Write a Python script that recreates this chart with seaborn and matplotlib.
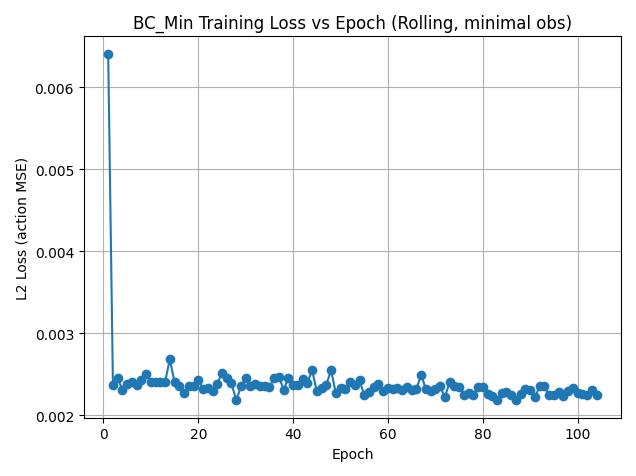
import numpy as np
import matplotlib
matplotlib.use("Agg")
import matplotlib.pyplot as plt
import seaborn as sns

loss = [0.00641, 0.00237, 0.00245, 0.00231, 0.00238, 0.00240, 0.00237, 0.00243, 0.00250, 0.00241,
        0.00240, 0.00240, 0.00241, 0.00268, 0.00240, 0.00235, 0.00227, 0.00235, 0.00236, 0.00243,
        0.00232, 0.00233, 0.00230, 0.00238, 0.00252, 0.00245, 0.00239, 0.00218, 0.00235, 0.00245,
        0.00235, 0.00238, 0.00236, 0.00235, 0.00234, 0.00245, 0.00247, 0.00231, 0.00245, 0.00237,
        0.00237, 0.00244, 0.00239, 0.00255, 0.00229, 0.00233, 0.00237, 0.00255, 0.00227, 0.00233,
        0.00232, 0.00240, 0.00237, 0.00243, 0.00224, 0.00228, 0.00234, 0.00238, 0.00230, 0.00233,
        0.00232, 0.00233, 0.00231, 0.00234, 0.00231, 0.00232, 0.00249, 0.00232, 0.00230, 0.00232,
        0.00235, 0.00222, 0.00240, 0.00236, 0.00234, 0.00225, 0.00227, 0.00224, 0.00234, 0.00234,
        0.00226, 0.00223, 0.00219, 0.00227, 0.00228, 0.00224, 0.00219, 0.00226, 0.00232, 0.00231,
        0.00222, 0.00235, 0.00235, 0.00225, 0.00225, 0.00228, 0.00223, 0.00230, 0.00233, 0.00227,
        0.00226, 0.00224, 0.00231, 0.00225]
epochs = list(range(1, len(loss) + 1))

# plain matplotlib look (black text, black spines)
plt.rcdefaults()
fig, ax = plt.subplots(figsize=(6.36, 4.77), dpi=100)
sns.lineplot(x=epochs, y=loss, marker="o", markersize=7, markeredgewidth=0,
             color="#1f77b4", linewidth=1.5, ax=ax)
ax.set_title("BC_Min Training Loss vs Epoch (Rolling, minimal obs)")
ax.set_xlabel("Epoch")
ax.set_ylabel("L2 Loss (action MSE)")
ax.set_xticks([0, 20, 40, 60, 80, 100])
ax.grid(True, color="#b0b0b0", linewidth=0.8)
fig.tight_layout()
fig.savefig("out.png")
